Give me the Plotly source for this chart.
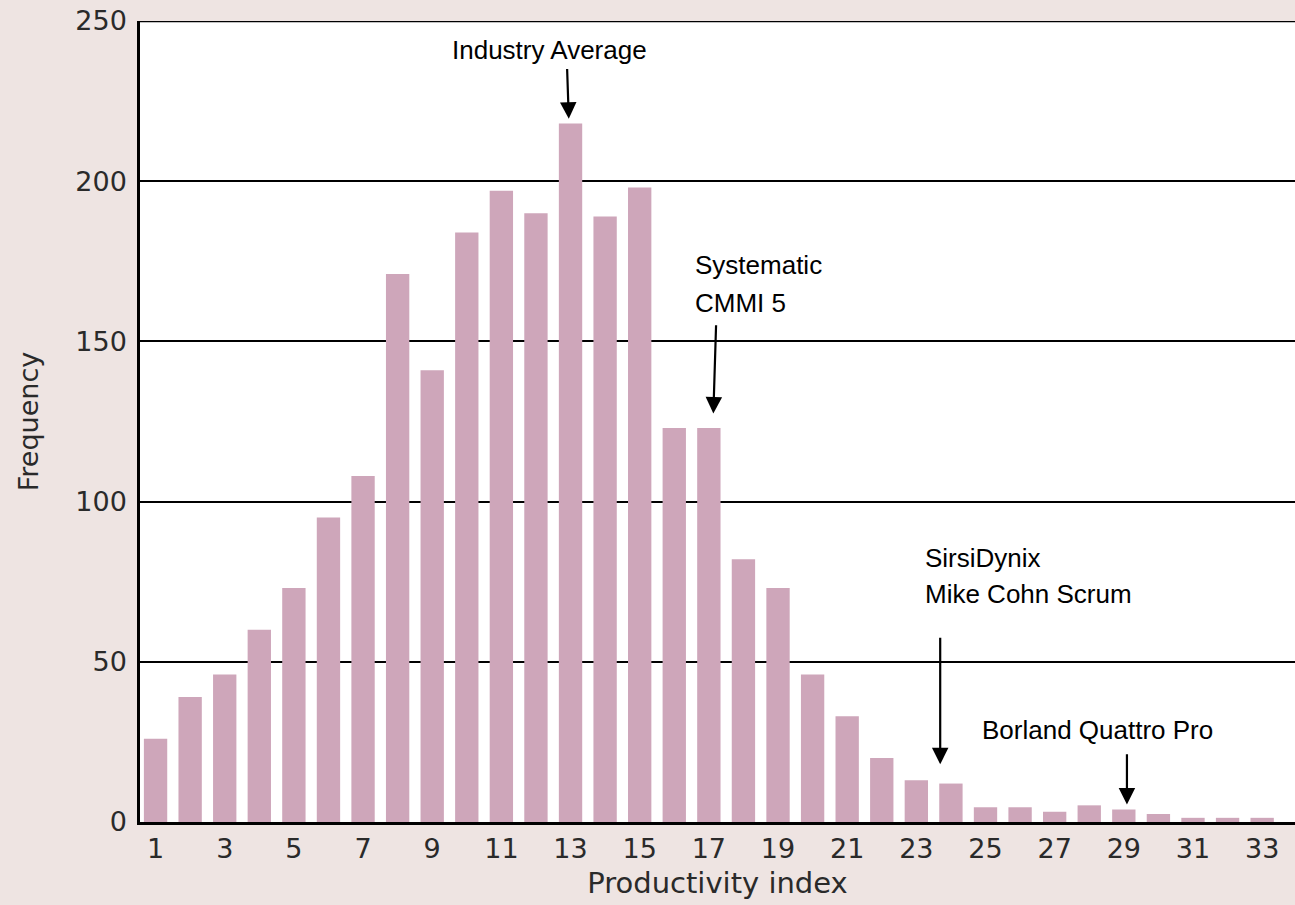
import plotly.graph_objects as go

# ---- data ----
categories = list(range(1, 34))
frequency = [26, 39, 46, 60, 73, 95, 108, 171, 141, 184, 197, 190, 218, 189, 198,
             123, 123, 82, 73, 46, 33, 20, 13, 12, 4.6, 4.6, 3.2, 5.2, 3.9, 2.5,
             1.3, 1.3, 1.3]
x_tick_values = list(range(1, 34, 2))
x_tick_labels = [str(v) for v in x_tick_values]
y_tick_values = [0, 50, 100, 150, 200, 250]
y_tick_labels = [str(v) for v in y_tick_values]

# callouts: label lines, target category; positions are layout offsets (data units)
callouts = [
    dict(lines=["Industry Average"], cat=13, tx=-0.6, ty=[241], anchor="center",
         tail=235.5, tip_pad=1.5, dx=-0.05, lean=0.05),
    dict(lines=["Systematic", "CMMI 5"], cat=17, tx=-0.45, ty=[173.7, 162.1], anchor="left",
         tail=155.5, tip_pad=4.5, dx=0.13, lean=-0.08),
    dict(lines=["SirsiDynix", "Mike Cohn Scrum"], cat=24, tx=-0.8, ty=[82.4, 71.2], anchor="left",
         tail=58, tip_pad=6, dx=-0.31, lean=0.0),
    dict(lines=["Borland Quattro Pro"], cat=29, tx=-0.75, ty=[28.7], anchor="center",
         tail=21.6, tip_pad=1.6, dx=0.09, lean=0.0),
]

BG = "#eee4e2"
BAR = "#cea6ba"
ANN_FONT = dict(family="Liberation Sans, Arial", size=26, color="black")
AX_FONT = "DejaVu Sans"
AX_COLOR = "#2a2a2a"

fig = go.Figure()
fig.add_trace(go.Bar(
    x=categories, y=frequency,
    marker=dict(color=BAR, line=dict(width=0)),
    width=0.675,
    showlegend=False,
))

annotations = []
for c in callouts:
    val = frequency[categories.index(c["cat"])]
    tip_x = c["cat"] + c["dx"]
    annotations.append(dict(
        x=tip_x, y=val + c["tip_pad"], xref="x", yref="y",
        ax=tip_x - c["lean"], ay=c["tail"], axref="x", ayref="y",
        text="", showarrow=True, arrowhead=2, arrowsize=1.5, arrowwidth=2.2,
        arrowcolor="black", standoff=0, startstandoff=0,
    ))
    for line, y in zip(c["lines"], c["ty"]):
        annotations.append(dict(
            x=c["cat"] + c["tx"], y=y, xref="x", yref="y",
            text=line, showarrow=False, xanchor=c["anchor"], yanchor="middle",
            font=ANN_FONT,
        ))

fig.update_layout(
    width=1295, height=905,
    margin=dict(l=140, r=0, t=21, b=83),
    paper_bgcolor=BG, plot_bgcolor="white",
    bargap=0.325,
    annotations=annotations,
    shapes=[dict(type="line", xref="paper", yref="y", x0=0, x1=1, y0=250, y1=250,
                 line=dict(color="black", width=2.5), layer="above")],
    xaxis=dict(
        range=[0.55, 33.95], tickmode="array", tickvals=x_tick_values, ticktext=x_tick_labels,
        showgrid=False, zeroline=False, showline=True, linecolor="black", linewidth=2.5,
        ticks="", ticklabelstandoff=1,
        tickfont=dict(family=AX_FONT, size=27, color=AX_COLOR),
        title=dict(text="Productivity index", standoff=10,
                   font=dict(family=AX_FONT, size=29, color=AX_COLOR)),
    ),
    yaxis=dict(
        range=[0, 250], tickmode="array", tickvals=y_tick_values, ticktext=y_tick_labels,
        showgrid=True, gridcolor="black", gridwidth=2, zeroline=False,
        showline=True, linecolor="black", linewidth=2.5,
        ticks="", ticklabelstandoff=5,
        tickfont=dict(family=AX_FONT, size=27, color=AX_COLOR),
        title=dict(text="Frequency", standoff=29,
                   font=dict(family=AX_FONT, size=27, color=AX_COLOR)),
    ),
)

fig.write_html(
    "out.html",
    config={"displayModeBar": False},
    post_script="document.body.style.margin='0';document.body.style.overflow='hidden';",
)
